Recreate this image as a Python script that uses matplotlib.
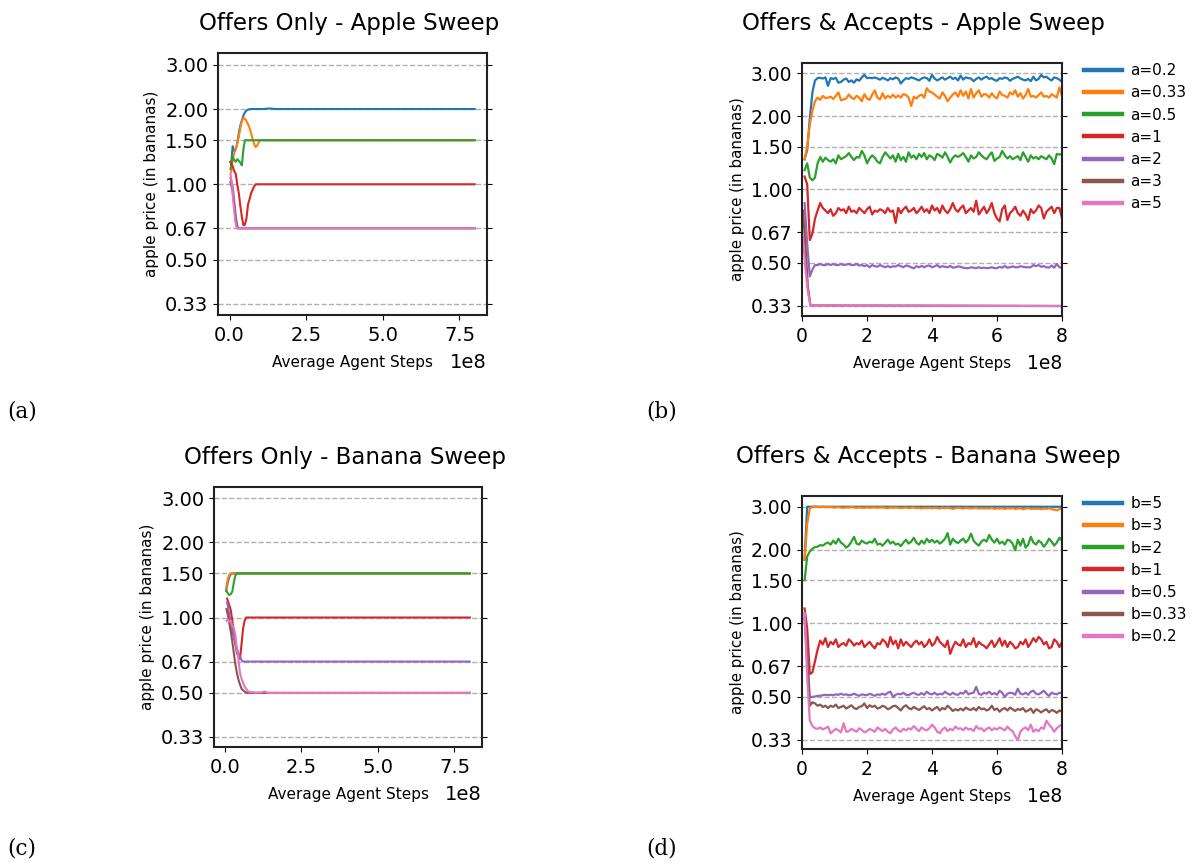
import numpy as np
import matplotlib
matplotlib.use("Agg")
import matplotlib.pyplot as plt
from matplotlib.ticker import FixedLocator, FixedFormatter, NullLocator

# ---------------- data (x in units of 1e8 agent steps) ----------------
ytick_vals = [1/3, 0.5, 2/3, 1.0, 1.5, 2.0, 3.0]
ytick_labels = ['0.33', '0.50', '0.67', '1.00', '1.50', '2.00', '3.00']

labels_a = ['a=0.2', 'a=0.33', 'a=0.5', 'a=1', 'a=2', 'a=3', 'a=5']
labels_b = ['b=5', 'b=3', 'b=2', 'b=1', 'b=0.5', 'b=0.33', 'b=0.2']

# (a) Offers Only - Apple Sweep
a02_x = [0.05, 0.10, 0.15, 0.20, 0.25, 0.30, 0.35, 0.40, 0.45, 0.50, 0.55, 0.60, 0.70, 1.10, 1.30, 1.50, 8.0]
a02_y = [1.20, 1.42, 1.36, 1.38, 1.46, 1.60, 1.72, 1.80, 1.88, 1.94, 1.97, 1.99, 2.00, 2.00, 2.01, 2.00, 2.00]
a033_x = [0.05, 0.10, 0.15, 0.20, 0.25, 0.30, 0.35, 0.40, 0.45, 0.50, 0.55, 0.60, 0.65, 0.70, 0.75, 0.80, 0.85, 0.90, 0.95, 1.00, 8.0]
a033_y = [1.12, 1.25, 1.33, 1.38, 1.45, 1.55, 1.68, 1.79, 1.84, 1.83, 1.79, 1.74, 1.68, 1.60, 1.52, 1.45, 1.41, 1.43, 1.47, 1.50, 1.50]
a05_x = [0.03, 0.10, 0.15, 0.20, 0.25, 0.30, 0.35, 0.40, 0.45, 0.50, 8.0]
a05_y = [1.15, 1.29, 1.25, 1.23, 1.26, 1.24, 1.22, 1.19, 1.38, 1.50, 1.50]
a1_x = [0.02, 0.10, 0.15, 0.20, 0.25, 0.30, 0.35, 0.40, 0.45, 0.50, 0.55, 0.60, 0.65, 0.70, 0.75, 0.80, 0.85, 8.0]
a1_y = [1.23, 1.18, 1.13, 1.10, 1.00, 0.92, 0.82, 0.74, 0.685, 0.69, 0.73, 0.83, 0.87, 0.92, 0.95, 0.98, 1.00, 1.00]
a2_x = [0.03, 0.10, 0.15, 0.20, 0.25, 0.30, 8.0]
a2_y = [1.06, 0.98, 0.86, 0.75, 0.68, 0.667, 0.667]
a3_x = [0.03, 0.10, 0.15, 0.20, 0.25, 8.0]
a3_y = [1.02, 0.93, 0.82, 0.72, 0.667, 0.667]
a5_x = [0.03, 0.08, 0.13, 0.18, 0.23, 8.0]
a5_y = [1.10, 0.98, 0.83, 0.72, 0.667, 0.667]

# (c) Offers Only - Banana Sweep
c5_x = [0.05, 0.10, 0.15, 0.20, 0.25, 8.0]
c5_y = [1.28, 1.38, 1.45, 1.49, 1.50, 1.50]
c3_x = [0.05, 0.10, 0.15, 0.20, 8.0]
c3_y = [1.31, 1.42, 1.48, 1.50, 1.50]
c2_x = [0.05, 0.10, 0.15, 0.20, 0.25, 0.30, 0.35, 0.40, 8.0]
c2_y = [1.28, 1.25, 1.23, 1.24, 1.27, 1.38, 1.47, 1.50, 1.50]
c1_x = [0.08, 0.15, 0.20, 0.25, 0.30, 0.35, 0.40, 0.45, 0.50, 0.55, 0.60, 0.65, 0.70, 8.0]
c1_y = [1.19, 1.12, 1.07, 0.97, 0.86, 0.78, 0.72, 0.70, 0.683, 0.78, 0.90, 0.97, 1.00, 1.00]
c05_x = [0.08, 0.10, 0.15, 0.20, 0.25, 0.30, 0.35, 0.40, 0.45, 0.50, 0.55, 0.60, 8.0]
c05_y = [1.15, 1.12, 1.03, 0.95, 0.88, 0.83, 0.79, 0.75, 0.72, 0.70, 0.675, 0.667, 0.667]
c033_x = [0.06, 0.10, 0.15, 0.20, 0.25, 0.30, 0.35, 0.40, 0.45, 0.50, 0.55, 0.60, 0.65, 0.70, 0.75, 8.0]
c033_y = [1.08, 1.03, 0.95, 0.88, 0.80, 0.72, 0.65, 0.60, 0.565, 0.54, 0.52, 0.512, 0.506, 0.502, 0.50, 0.50]
c02_x = [0.06, 0.10, 0.15, 0.20, 0.25, 0.30, 0.35, 0.40, 0.45, 0.50, 0.55, 0.60, 0.65, 0.70, 0.75, 0.80, 0.90, 1.00, 1.20, 1.30, 1.40, 8.0]
c02_y = [0.97, 0.98, 0.96, 0.97, 0.92, 0.91, 0.85, 0.75, 0.68, 0.60, 0.57, 0.55, 0.53, 0.52, 0.51, 0.505, 0.503, 0.501, 0.502, 0.507, 0.50, 0.50]

# (b) Offers & Accepts - Apple Sweep : sampled every 0.08e8 steps
x_dense = np.round(np.arange(1, 101) * 0.08, 2)
b02_y = [1.33, 1.45, 1.95, 2.50, 2.80, 2.86, 2.87, 2.85, 2.88, 2.66,
         2.86, 2.84, 2.87, 2.74, 2.76, 2.82, 2.85, 2.76, 2.80, 2.74,
         2.83, 2.79, 2.88, 2.95, 2.86, 2.87, 2.86, 2.88, 2.85, 2.82,
         2.87, 2.84, 2.80, 2.86, 2.83, 2.88, 2.85, 2.72, 2.80, 2.86,
         2.84, 2.88, 2.86, 2.83, 2.80, 2.85, 2.88, 2.86, 2.79, 2.95,
         2.85, 2.80, 2.84, 2.88, 2.82, 2.86, 2.90, 2.84, 2.87, 2.80,
         2.93, 2.82, 2.88, 2.86, 2.85, 2.78, 2.84, 2.88, 2.82, 2.87,
         2.90, 2.84, 2.86, 2.81, 2.79, 2.86, 2.84, 2.88, 2.86, 2.79,
         2.84, 2.87, 2.90, 2.85, 2.82, 2.80, 2.84, 2.78, 2.90, 2.80,
         2.84, 2.95, 2.88, 2.90, 2.84, 2.80, 2.88, 2.86, 2.82, 2.76]
b033_y = [1.33, 1.50, 1.85, 2.10, 2.30, 2.38, 2.33, 2.42, 2.37, 2.38,
          2.40, 2.35, 2.42, 2.50, 2.32, 2.34, 2.36, 2.45, 2.38, 2.35,
          2.42, 2.38, 2.30, 2.46, 2.36, 2.33, 2.45, 2.55, 2.38, 2.34,
          2.48, 2.36, 2.42, 2.38, 2.45, 2.38, 2.43, 2.38, 2.46, 2.44,
          2.38, 2.20, 2.40, 2.36, 2.42, 2.45, 2.38, 2.60, 2.52, 2.50,
          2.45, 2.40, 2.36, 2.50, 2.42, 2.30, 2.38, 2.45, 2.50, 2.40,
          2.55, 2.42, 2.52, 2.36, 2.58, 2.38, 2.48, 2.55, 2.40, 2.46,
          2.45, 2.38, 2.48, 2.40, 2.36, 2.52, 2.44, 2.42, 2.38, 2.50,
          2.45, 2.55, 2.40, 2.48, 2.36, 2.44, 2.58, 2.40, 2.42, 2.38,
          2.44, 2.50, 2.40, 2.42, 2.38, 2.46, 2.42, 2.38, 2.62, 2.42]
b05_y = [1.20, 1.28, 1.12, 1.09, 1.12, 1.28, 1.36, 1.30, 1.35, 1.32,
         1.30, 1.33, 1.28, 1.38, 1.33, 1.35, 1.37, 1.41, 1.36, 1.32,
         1.36, 1.35, 1.44, 1.38, 1.28, 1.34, 1.38, 1.35, 1.30, 1.28,
         1.36, 1.42, 1.38, 1.34, 1.38, 1.30, 1.40, 1.32, 1.36, 1.30,
         1.42, 1.35, 1.38, 1.33, 1.40, 1.36, 1.41, 1.33, 1.38, 1.36,
         1.32, 1.40, 1.38, 1.35, 1.42, 1.36, 1.29, 1.35, 1.38, 1.36,
         1.38, 1.41, 1.36, 1.30, 1.38, 1.34, 1.36, 1.42, 1.38, 1.35,
         1.33, 1.38, 1.42, 1.31, 1.34, 1.36, 1.44, 1.38, 1.34, 1.37,
         1.33, 1.35, 1.37, 1.32, 1.42, 1.36, 1.30, 1.38, 1.34, 1.36,
         1.33, 1.37, 1.35, 1.33, 1.38, 1.34, 1.27, 1.40, 1.39, 1.40]
b1_y = [1.13, 1.05, 0.62, 0.66, 0.76, 0.82, 0.88, 0.84, 0.82, 0.80,
        0.83, 0.78, 0.80, 0.84, 0.82, 0.83, 0.80, 0.85, 0.81, 0.82,
        0.80, 0.84, 0.82, 0.80, 0.83, 0.85, 0.79, 0.82, 0.81, 0.83,
        0.82, 0.80, 0.84, 0.81, 0.82, 0.73, 0.84, 0.80, 0.83, 0.85,
        0.81, 0.82, 0.84, 0.80, 0.82, 0.85, 0.81, 0.83, 0.80, 0.86,
        0.82, 0.84, 0.80, 0.86, 0.82, 0.80, 0.83, 0.88, 0.83, 0.81,
        0.84, 0.86, 0.80, 0.82, 0.84, 0.81, 0.90, 0.79, 0.82, 0.85,
        0.80, 0.83, 0.88, 0.80, 0.76, 0.74, 0.83, 0.86, 0.75, 0.80,
        0.82, 0.85, 0.80, 0.78, 0.82, 0.79, 0.75, 0.83, 0.80, 0.82,
        0.86, 0.84, 0.76, 0.81, 0.83, 0.85, 0.80, 0.84, 0.84, 0.76]
b2_y = [0.88, 0.60, 0.44, 0.47, 0.49, 0.49, 0.495, 0.49, 0.49, 0.495,
        0.49, 0.495, 0.49, 0.49, 0.495, 0.49, 0.492, 0.495, 0.49, 0.49,
        0.495, 0.488, 0.49, 0.485, 0.49, 0.48, 0.49, 0.485, 0.482, 0.49,
        0.485, 0.48, 0.486, 0.48, 0.485, 0.483, 0.49, 0.485, 0.48, 0.488,
        0.485, 0.48, 0.475, 0.485, 0.48, 0.486, 0.48, 0.486, 0.488, 0.48,
        0.484, 0.49, 0.48, 0.485, 0.482, 0.48, 0.486, 0.478, 0.48, 0.484,
        0.482, 0.478, 0.476, 0.476, 0.48, 0.478, 0.476, 0.48, 0.476, 0.478,
        0.476, 0.477, 0.48, 0.476, 0.476, 0.482, 0.478, 0.486, 0.478, 0.48,
        0.484, 0.48, 0.48, 0.485, 0.482, 0.48, 0.48, 0.48, 0.49, 0.485,
        0.49, 0.482, 0.485, 0.48, 0.478, 0.488, 0.478, 0.495, 0.48, 0.478]
b3_x = [0.03, 0.10, 0.18, 0.26, 8.0]
b3_y = [0.82, 0.60, 0.40, 0.335, 0.333]
b5_x = [0.03, 0.10, 0.18, 0.26, 8.0]
b5_y = [0.64, 0.48, 0.38, 0.335, 0.333]

# (d) Offers & Accepts - Banana Sweep
d5_x = [0.08, 0.16, 8.0]
d5_y = [1.82, 3.00, 3.00]
d3_y = [1.82, 2.55, 2.95, 3.00, 3.00, 3.00, 2.99, 3.00, 2.99, 2.99,
        2.99, 2.98, 2.98, 2.99, 2.98, 2.97, 2.98, 2.98, 2.99, 2.98,
        2.97, 2.98, 2.97, 2.97, 2.98, 2.97, 2.98, 2.98, 2.97, 2.98,
        2.98, 2.97, 2.96, 2.98, 2.97, 2.98, 2.97, 2.96, 2.97, 2.98,
        2.96, 2.97, 2.98, 2.96, 2.97, 2.95, 2.97, 2.96, 2.97, 2.96,
        2.97, 2.96, 2.95, 2.97, 2.96, 2.97, 2.96, 2.94, 2.96, 2.97,
        2.96, 2.95, 2.97, 2.96, 2.95, 2.96, 2.97, 2.95, 2.96, 2.95,
        2.96, 2.95, 2.97, 2.94, 2.96, 2.95, 2.96, 2.94, 2.96, 2.95,
        2.96, 2.94, 2.95, 2.96, 2.93, 2.95, 2.96, 2.94, 2.95, 2.94,
        2.95, 2.93, 2.95, 2.94, 2.96, 2.93, 2.92, 2.90, 2.93, 2.97]
d2_y = [1.50, 1.88, 1.97, 2.02, 2.05, 2.06, 2.09, 2.08, 2.12, 2.14,
        2.10, 2.18, 2.12, 2.22, 2.14, 2.10, 2.04, 2.08, 2.16, 2.26,
        2.12, 2.10, 2.18, 2.14, 2.12, 2.16, 2.14, 2.22, 2.10, 2.12,
        2.08, 2.14, 2.20, 2.12, 2.16, 2.10, 2.12, 2.07, 2.14, 2.20,
        2.12, 2.16, 2.24, 2.14, 2.10, 2.18, 2.12, 2.22, 2.15, 2.20,
        2.14, 2.18, 2.12, 2.16, 2.22, 2.34, 2.10, 2.22, 2.16, 2.13,
        2.18, 2.22, 2.14, 2.20, 2.33, 2.18, 2.12, 2.08, 2.16, 2.20,
        2.16, 2.30, 2.20, 2.14, 2.22, 2.12, 2.16, 2.10, 2.20, 2.18,
        2.12, 1.99, 2.20, 2.08, 2.22, 2.04, 2.10, 2.26, 2.14, 2.10,
        2.18, 2.14, 2.06, 2.12, 2.22, 2.16, 2.08, 2.14, 2.24, 2.18]
d1_y = [1.15, 0.95, 0.62, 0.63, 0.70, 0.78, 0.85, 0.82, 0.87, 0.80,
        0.84, 0.82, 0.86, 0.80, 0.82, 0.83, 0.81, 0.86, 0.84, 0.81,
        0.83, 0.82, 0.85, 0.80, 0.82, 0.84, 0.81, 0.79, 0.83, 0.82,
        0.86, 0.84, 0.80, 0.88, 0.82, 0.85, 0.79, 0.86, 0.81, 0.84,
        0.82, 0.80, 0.83, 0.85, 0.82, 0.84, 0.80, 0.82, 0.86, 0.81,
        0.83, 0.88, 0.84, 0.82, 0.80, 0.85, 0.75, 0.80, 0.84, 0.82,
        0.81, 0.86, 0.80, 0.83, 0.82, 0.87, 0.80, 0.84, 0.82, 0.81,
        0.79, 0.82, 0.85, 0.80, 0.83, 0.87, 0.81, 0.85, 0.80, 0.84,
        0.82, 0.79, 0.80, 0.84, 0.82, 0.86, 0.80, 0.83, 0.87, 0.84,
        0.88, 0.86, 0.82, 0.84, 0.79, 0.80, 0.86, 0.84, 0.80, 0.84]
d05_y = [1.10, 0.75, 0.50, 0.50, 0.502, 0.505, 0.505, 0.508, 0.51, 0.508,
         0.51, 0.508, 0.512, 0.51, 0.515, 0.51, 0.512, 0.508, 0.51, 0.515,
         0.51, 0.505, 0.512, 0.51, 0.508, 0.515, 0.51, 0.505, 0.512, 0.51,
         0.515, 0.51, 0.52, 0.525, 0.50, 0.51, 0.515, 0.512, 0.52, 0.51,
         0.508, 0.515, 0.52, 0.512, 0.51, 0.518, 0.51, 0.525, 0.515, 0.512,
         0.52, 0.51, 0.515, 0.512, 0.525, 0.515, 0.51, 0.52, 0.512, 0.51,
         0.52, 0.515, 0.53, 0.512, 0.518, 0.52, 0.55, 0.515, 0.51, 0.52,
         0.515, 0.525, 0.512, 0.518, 0.51, 0.53, 0.52, 0.50, 0.515, 0.52,
         0.518, 0.51, 0.54, 0.515, 0.512, 0.52, 0.51, 0.525, 0.53, 0.515,
         0.512, 0.52, 0.53, 0.515, 0.505, 0.52, 0.515, 0.512, 0.52, 0.518]
d033_y = [1.05, 0.70, 0.46, 0.475, 0.47, 0.46, 0.465, 0.455, 0.46, 0.45,
          0.46, 0.455, 0.465, 0.45, 0.455, 0.46, 0.448, 0.455, 0.462, 0.45,
          0.446, 0.455, 0.458, 0.47, 0.45, 0.462, 0.455, 0.46, 0.448, 0.452,
          0.46, 0.455, 0.445, 0.45, 0.458, 0.46, 0.45, 0.44, 0.455, 0.462,
          0.45, 0.445, 0.455, 0.448, 0.442, 0.45, 0.458, 0.445, 0.45, 0.44,
          0.448, 0.455, 0.44, 0.45, 0.445, 0.46, 0.45, 0.438, 0.445, 0.44,
          0.448, 0.44, 0.452, 0.445, 0.442, 0.45, 0.44, 0.455, 0.445, 0.448,
          0.44, 0.445, 0.46, 0.442, 0.448, 0.435, 0.445, 0.45, 0.44, 0.452,
          0.445, 0.438, 0.446, 0.442, 0.45, 0.435, 0.44, 0.448, 0.43, 0.445,
          0.44, 0.432, 0.44, 0.445, 0.432, 0.442, 0.438, 0.43, 0.44, 0.435]
d02_y = [1.10, 0.60, 0.40, 0.38, 0.372, 0.37, 0.375, 0.368, 0.372, 0.378,
         0.355, 0.362, 0.37, 0.365, 0.358, 0.39, 0.36, 0.362, 0.37, 0.365,
         0.36, 0.372, 0.366, 0.358, 0.362, 0.37, 0.365, 0.36, 0.375, 0.368,
         0.362, 0.37, 0.36, 0.355, 0.368, 0.375, 0.365, 0.36, 0.37, 0.365,
         0.372, 0.368, 0.38, 0.37, 0.362, 0.375, 0.368, 0.365, 0.372, 0.385,
         0.375, 0.36, 0.355, 0.368, 0.375, 0.362, 0.37, 0.365, 0.378, 0.37,
         0.372, 0.365, 0.375, 0.368, 0.37, 0.362, 0.38, 0.37, 0.372, 0.362,
         0.37, 0.375, 0.365, 0.372, 0.368, 0.375, 0.37, 0.365, 0.378, 0.368,
         0.362, 0.345, 0.333, 0.36, 0.37, 0.375, 0.365, 0.385, 0.36, 0.368,
         0.362, 0.375, 0.37, 0.40, 0.385, 0.375, 0.36, 0.372, 0.38, 0.385]

# ---------------- figure ----------------
W, H = 1192, 863
fig = plt.figure(figsize=(W / 100, H / 100), dpi=100)
colors = plt.rcParams['axes.prop_cycle'].by_key()['color']


def axes_px(l, t, r, b):
    return fig.add_axes([l / W, 1 - b / H, (r - l) / W, (b - t) / H])


def style(ax, ylim, tick_fs, label_fs, title, pad, title_x):
    ax.set_yscale('log')
    ax.yaxis.set_major_locator(FixedLocator(ytick_vals))
    ax.yaxis.set_major_formatter(FixedFormatter(ytick_labels))
    ax.yaxis.set_minor_locator(NullLocator())
    ax.set_ylim(*ylim)
    ax.grid(True, axis='y', linestyle='--', color='#b0b0b0', linewidth=1.0)
    ax.tick_params(axis='y', right=True, labelsize=tick_fs)
    ax.tick_params(axis='x', labelsize=tick_fs, pad=4.5)
    ax.xaxis.get_offset_text().set_fontsize(tick_fs)
    ax.xaxis.OFFSETTEXTPAD = 6
    ax.set_ylabel('apple price (in bananas)', fontsize=label_fs)
    ax.set_xlabel('Average Agent Steps', fontsize=label_fs, labelpad=7)
    ax.set_title(title, fontsize=16.5, pad=pad, x=title_x)
    for s in ax.spines.values():
        s.set_linewidth(1.5)
        s.set_color('#222222')


def add_legend(ax):
    leg = ax.legend(loc='upper left', bbox_to_anchor=(1.06, 1.023), frameon=False,
                    fontsize=11, handlelength=2.5, handletextpad=0.55,
                    labelspacing=0.47, borderaxespad=0)
    for ln in leg.get_lines():
        ln.set_linewidth(3.2)


E = 1e8

# (a)
ax = axes_px(218, 53, 487, 315)
series = [(a02_x, a02_y), (a033_x, a033_y), (a05_x, a05_y), (a1_x, a1_y),
          (a2_x, a2_y), (a3_x, a3_y), (a5_x, a5_y)]
for (xs, ys), lab, c in zip(series, labels_a, colors):
    ax.plot(np.array(xs) * E, ys, color=c, lw=1.5, label=lab)
style(ax, (0.30, 3.35), 14, 11, 'Offers Only - Apple Sweep', 16.5, 0.489)

# (b)
ax = axes_px(802, 63, 1062, 316)
series = [(x_dense, b02_y), (x_dense, b033_y), (x_dense, b05_y), (x_dense, b1_y),
          (x_dense, b2_y), (b3_x, b3_y), (b5_x, b5_y)]
for (xs, ys), lab, c in zip(series, labels_a, colors):
    ax.plot(np.array(xs) * E, ys, color=c, lw=1.6, label=lab)
ax.set_xlim(0, 8 * E)
style(ax, (0.303, 3.30), 13.5, 10.8, 'Offers & Accepts - Apple Sweep', 24, 0.466)
add_legend(ax)

# (c)
ax = axes_px(214, 487, 482, 747)
series = [(c5_x, c5_y), (c3_x, c3_y), (c2_x, c2_y), (c1_x, c1_y),
          (c05_x, c05_y), (c033_x, c033_y), (c02_x, c02_y)]
for (xs, ys), lab, c in zip(series, labels_b, colors):
    ax.plot(np.array(xs) * E, ys, color=c, lw=1.5, label=lab)
style(ax, (0.304, 3.32), 14, 11, 'Offers Only - Banana Sweep', 16.5, 0.487)

# (d)
ax = axes_px(802, 496, 1062, 749)
series = [(d5_x, d5_y), (x_dense, d3_y), (x_dense, d2_y), (x_dense, d1_y),
          (x_dense, d05_y), (x_dense, d033_y), (x_dense, d02_y)]
for (xs, ys), lab, c in zip(series, labels_b, colors):
    ax.plot(np.array(xs) * E, ys, color=c, lw=1.6, label=lab)
ax.set_xlim(0, 8 * E)
style(ax, (0.306, 3.32), 13.5, 10.8, 'Offers & Accepts - Banana Sweep', 24, 0.487)
add_legend(ax)

for txt, x, y in [('(a)', 7, 411), ('(b)', 646, 411), ('(c)', 7, 848), ('(d)', 646, 848)]:
    fig.text(x / W, 1 - y / H, txt, family='DejaVu Serif', fontsize=15.5, va='center', ha='left')

fig.savefig('out.png', dpi=100)
